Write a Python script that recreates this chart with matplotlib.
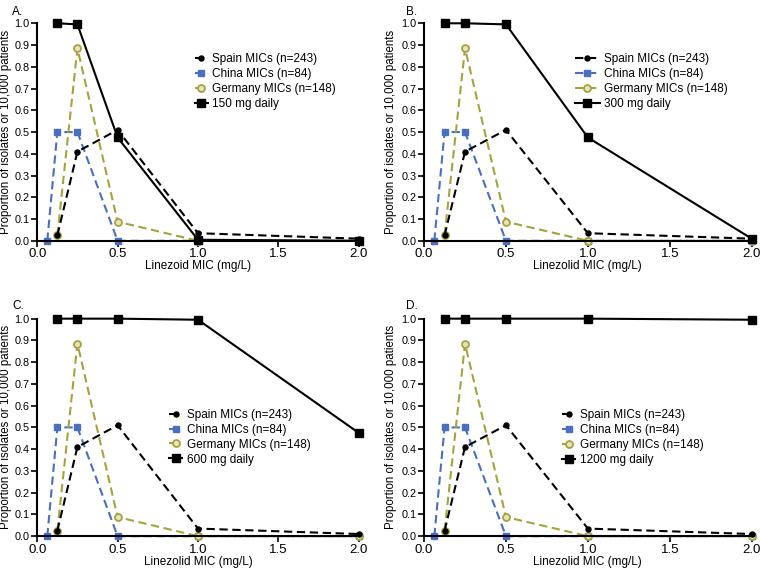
import numpy as np
import matplotlib.pyplot as plt

plt.rcParams['font.family'] = ['Liberation Sans', 'DejaVu Sans']

# MIC values (mg/L)
mic_spain = [0.125, 0.25, 0.5, 1.0, 2.0]
spain = [0.025, 0.41, 0.51, 0.035, 0.01]

mic_china = [0.0625, 0.125, 0.25, 0.5, 1.0, 2.0]
china = [0.0, 0.5, 0.5, 0.0, 0.0, 0.0]

mic_germany = [0.125, 0.25, 0.5, 1.0, 2.0]
germany = [0.025, 0.885, 0.088, 0.0, 0.0]

mic_dose = [0.125, 0.25, 0.5, 1.0, 2.0]
dose_labels = ['150 mg daily', '300 mg daily', '600 mg daily', '1200 mg daily']
dose_values = [
    [1.0, 0.995, 0.475, 0.005, 0.0],
    [1.0, 1.0, 0.995, 0.475, 0.01],
    [1.0, 1.0, 1.0, 0.995, 0.475],
    [1.0, 1.0, 1.0, 1.0, 0.995],
]
panel_letters = ['A.', 'B.', 'C.', 'D.']
xlabels = ['Linezoid MIC (mg/L)', 'Linezolid MIC (mg/L)', 'Linezolid MIC (mg/L)', 'Linezolid MIC (mg/L)']

blue = '#4a6fc0'
olive = '#a6a23c'

fig = plt.figure(figsize=(7.6, 5.68), dpi=100)

# axes boxes [left, bottom, width, height]
boxes = [
    [0.049, 0.576, 0.423, 0.383],
    [0.558, 0.576, 0.431, 0.383],
    [0.049, 0.056, 0.423, 0.383],
    [0.558, 0.056, 0.431, 0.383],
]
legend_pos = [(0.49, 0.862), (0.46, 0.862), (0.41, 0.586), (0.422, 0.584)]
handle_len = [1.1, 2.1, 1.1, 1.1]
ylabel_x = [-0.078, -0.083, -0.078, -0.083]
letter_pos = [(0.016, 0.99), (0.534, 0.99), (0.016, 0.472), (0.534, 0.472)]

for i in range(4):
    ax = fig.add_axes(boxes[i])
    ax.plot(mic_spain, spain, color='black', ls=(0, (4, 2.2)), lw=1.5,
            marker='o', ms=3.6, label='Spain MICs (n=243)', zorder=4)
    ax.plot(mic_china, china, color=blue, ls=(0, (4, 2.2)), lw=1.5,
            marker='s', ms=4, label='China MICs (n=84)', zorder=3)
    ax.plot(mic_germany, germany, color=olive, ls=(0, (4, 2.2)), lw=1.5,
            marker='o', ms=5, mfc='#e6e3c4', mec=olive, mew=1.3,
            label='Germany MICs (n=148)', zorder=3)
    ax.plot(mic_dose, dose_values[i], color='black', lw=1.5,
            marker='s', ms=5.5, label=dose_labels[i], zorder=4)

    ax.set_xlim(0, 2.0)
    ax.set_ylim(0, 1.0)
    ax.set_xticks([0.0, 0.5, 1.0, 1.5, 2.0])
    ax.set_xticklabels(['0.0', '0.5', '1.0', '1.5', '2.0'])
    ax.set_yticks(np.arange(0, 1.01, 0.1))
    ax.set_yticklabels(['%.1f' % v for v in np.arange(0, 1.01, 0.1)])
    for s in ['top', 'right']:
        ax.spines[s].set_visible(False)
    for s in ['left', 'bottom']:
        ax.spines[s].set_linewidth(1.5)
        ax.spines[s].set_zorder(5)
    ax.tick_params(direction='out', length=4, width=1.2, pad=1.5)
    ax.tick_params(axis='x', labelsize=9.5)
    ax.tick_params(axis='y', labelsize=7.8)
    ax.set_xlabel(xlabels[i], fontsize=8.5, labelpad=0)
    ax.set_ylabel('Proportion of isolates or 10,000 patients', fontsize=8.3)
    ax.yaxis.set_label_coords(ylabel_x[i], 0.5)
    for ln in ax.lines:
        ln.set_clip_on(False)

    ax.legend(loc='upper left', bbox_to_anchor=legend_pos[i], frameon=False,
              fontsize=8.5, handlelength=handle_len[i], handletextpad=0.4,
              labelspacing=0.25, borderaxespad=0, borderpad=0)
    fig.text(letter_pos[i][0], letter_pos[i][1], panel_letters[i],
             fontsize=8.5, ha='left', va='top')

fig.savefig('out.png', dpi=100)
